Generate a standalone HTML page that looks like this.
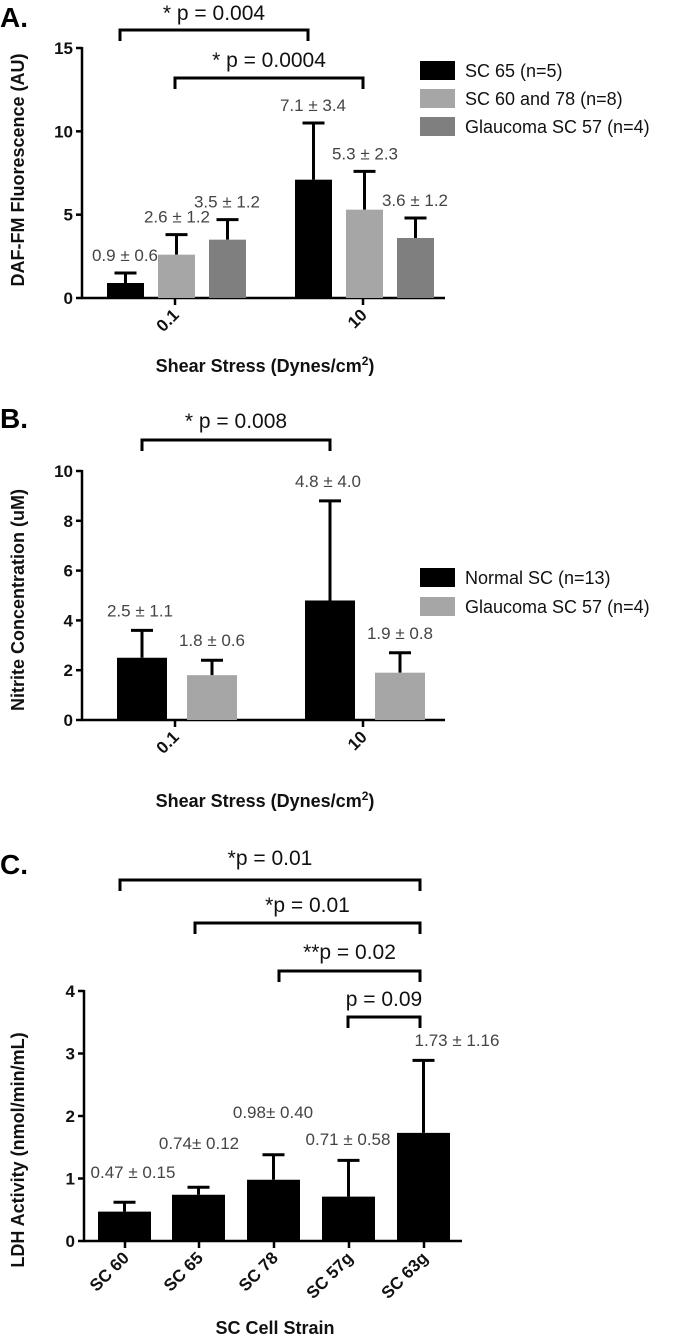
<!DOCTYPE html>
<html><head><meta charset="utf-8"><style>
body{margin:0;background:#fff;}
svg{display:block;font-family:"Liberation Sans",Arial,sans-serif;}
.lbl{font-size:17px;fill:#444;text-anchor:middle;}
.tick{font-size:17px;font-weight:bold;fill:#111;}
.title{font-size:18px;font-weight:bold;fill:#111;text-anchor:middle;}
.p{font-size:21px;fill:#111;text-anchor:middle;}
.leg{font-size:18px;fill:#111;}
.pl{font-size:28px;font-weight:bold;fill:#000;}
</style></head><body>
<svg id="fig" width="677" height="1341" viewBox="0 0 677 1341"></svg>
<script>
// Panel A data
const aGroups = ["0.1","10"];
const aSC65 = [0.9,7.1], aSC65err=[0.6,3.4];
const aSC6078 = [2.6,5.3], aSC6078err=[1.2,2.3];
const aGl57 = [3.5,3.6], aGl57err=[1.2,1.2];
const aTicks=[0,5,10,15];
// Panel B data
const bGroups=["0.1","10"];
const bNormal=[2.5,4.8], bNormalErr=[1.1,4.0];
const bGl=[1.8,1.9], bGlErr=[0.6,0.8];
const bTicks=[0,2,4,6,8,10];
// Panel C data
const cCats=["SC 60","SC 65","SC 78","SC 57g","SC 63g"];
const cVals=[0.47,0.74,0.98,0.71,1.73], cErr=[0.15,0.12,0.40,0.58,1.16];
const cLabels=["0.47 ± 0.15","0.74± 0.12","0.98± 0.40","0.71 ± 0.58","1.73 ± 1.16"];
const cTicks=[0,1,2,3,4];

const svg=document.getElementById('fig');
const NS="http://www.w3.org/2000/svg";
function el(tag,attrs,txt){const e=document.createElementNS(NS,tag);for(const k in attrs)e.setAttribute(k,attrs[k]);if(txt!==undefined)e.textContent=txt;svg.appendChild(e);return e;}
function line(x1,y1,x2,y2,w){return el('line',{x1,y1,x2,y2,stroke:'#000','stroke-width':w||2.5});}
function bracket(x1,x2,y,h,text,ty,name){
  const p=el('path',{d:`M${x1} ${y+h}V${y}H${x2}V${y+h}`,fill:'none',stroke:'#000','stroke-width':3});
  
  
  const t=el('text',{x:(x1+x2)/2,y:ty,class:'p'},text);
  
  
}
function bar(x,w,yf,v,e,color,name){
  const y0=yf(0),yv=yf(v),ye=yf(v+e),cx=x+w/2;
  line(cx,yv,cx,ye,3);line(cx-11,ye,cx+11,ye,3);
  const r=el('rect',{x,y:yv,width:w,height:y0-yv,fill:color});
  
  
}
function yaxis(x,yf,ticks,top,bottom,right){
  line(x,top-1,x,bottom+1);line(x-1,bottom,right,bottom);
  ticks.forEach(t=>{line(x-6,yf(t),x,yf(t));const tx=el('text',{x:x-9,y:yf(t)+6,class:'tick','text-anchor':'end'},String(t));
    
    });
}
function xtick(x,y,label){line(x,y,x,y+7);const t=el('text',{x:x+5,y:y+18,class:'tick','text-anchor':'end',transform:`rotate(-45 ${x+5} ${y+18})`},label);
  
  }
function ytitle(x,y,text){const t=el('text',{x,y,class:'title',transform:`rotate(-90 ${x} ${y})`},text);
  
  }
function lbl(x,y,text){const t=el('text',{x,y,class:'lbl'},text);
  
  }
function legend(x,y,color,text){const r=el('rect',{x,y,width:35,height:19,fill:color});
  
  
  const t=el('text',{x:x+45,y:y+16,class:'leg'},text);
  
  }
function fmt(v,e){return v.toFixed(1)+" ± "+e.toFixed(1);}

// ===== Panel A =====
el('text',{x:0,y:27,class:'pl'},'A.');
const yA=v=>298-v*(250/15);
yaxis(82,yA,aTicks,48,298,445);
const aCenters=[175,363];
aGroups.forEach((g,i)=>{
  const c=aCenters[i];
  bar(c-68,37,yA,aSC65[i],aSC65err[i],'#000','bar-sc65-'+g);
  bar(c-17,37,yA,aSC6078[i],aSC6078err[i],'#a6a6a6','bar-sc6078-'+g);
  bar(c+34,37,yA,aGl57[i],aGl57err[i],'#7f7f7f','bar-glaucoma57-'+g);
  lbl(c-50,yA(aSC65[i]+aSC65err[i])-12,fmt(aSC65[i],aSC65err[i]));
  lbl(c+2,yA(aSC6078[i]+aSC6078err[i])-12,fmt(aSC6078[i],aSC6078err[i]));
  lbl(c+52,yA(aGl57[i]+aGl57err[i])-12,fmt(aGl57[i],aGl57err[i]));
  xtick(c,298,g);
});
bracket(120,308,30,11,'* p = 0.004',20,'p-004');
bracket(175,363,78,11,'* p = 0.0004',67,'p-0004');
ytitle(24,170,'DAF-FM Fluorescence (AU)');
el('text',{x:265,y:372,class:'title'}).innerHTML='Shear Stress (Dynes/cm<tspan dy="-7" font-size="12">2</tspan><tspan dy="7">)</tspan>';
legend(420,61,'#000','SC 65 (n=5)');
legend(420,89,'#a6a6a6','SC 60 and 78 (n=8)');
legend(420,117,'#7f7f7f','Glaucoma SC 57 (n=4)');

// ===== Panel B =====
el('text',{x:0,y:428,class:'pl'},'B.');
const yB=v=>720-v*24.9;
yaxis(82,yB,bTicks,471,720,445);
const bCenters=[175,363];
bGroups.forEach((g,i)=>{
  const c=bCenters[i];
  bar(c-58,50,yB,bNormal[i],bNormalErr[i],'#000','bar-normal-'+g);
  bar(c+12,50,yB,bGl[i],bGlErr[i],'#a6a6a6','bar-glaucoma-'+g);
  lbl(c-35,yB(bNormal[i]+bNormalErr[i])-14,fmt(bNormal[i],bNormalErr[i]));
  lbl(c+37,yB(bGl[i]+bGlErr[i])-14,fmt(bGl[i],bGlErr[i]));
  xtick(c,720,g);
});
bracket(142,330,440,11,'* p = 0.008',428,'p-008');
ytitle(24,600,'Nitrite Concentration (uM)');
el('text',{x:265,y:807,class:'title'}).innerHTML='Shear Stress (Dynes/cm<tspan dy="-7" font-size="12">2</tspan><tspan dy="7">)</tspan>';
legend(420,568,'#000','Normal SC (n=13)');
legend(420,597,'#a6a6a6','Glaucoma SC 57 (n=4)');

// ===== Panel C =====
el('text',{x:0,y:874,class:'pl'},'C.');
const yC=v=>1241-v*62.5;
yaxis(84,yC,cTicks,991,1241,462);
const cX=[125,199,274,349,424];
cCats.forEach((c,i)=>{
  bar(cX[i]-27,53,yC,cVals[i],cErr[i],'#000','bar-'+c.replace(' ','').toLowerCase());
  xtick(cX[i],1241,c);
});
const cLblPos=[[133,1178],[199,1149],[273,1118],[348,1145],[457,1046]];
cLabels.forEach((t,i)=>lbl(cLblPos[i][0],cLblPos[i][1],t));
bracket(120,420,880,11,'*p = 0.01',865,'p-01-a');
bracket(195,420,923,11,'*p = 0.01',912,'p-01-b');
bracket(279,420,971,11,'**p = 0.02',959,'p-02');
bracket(348,420,1017,11,'p = 0.09',1006,'p-09');
ytitle(24,1150,'LDH Activity (nmol/min/mL)');
el('text',{x:275,y:1334,class:'title'},'SC Cell Strain');
</script>
</body></html>
